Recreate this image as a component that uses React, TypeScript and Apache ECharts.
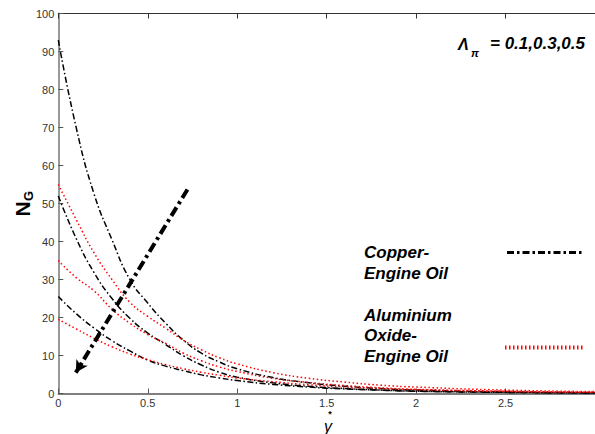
import React, { useEffect, useRef } from "react";
import * as echarts from "echarts";

const xValues = [0, 0.1, 0.2, 0.3, 0.4, 0.5, 0.6, 0.7, 0.8, 0.9, 1.0, 1.2, 1.4, 1.6, 1.8, 2.0, 2.5, 3.0];
const copperHigh = [93, 70, 52.5, 40.5, 30, 23.8, 18.5, 14, 10.6, 8.3, 6.5, 4.2, 2.8, 1.9, 1.3, 0.9, 0.4, 0.2];
const copperMid = [52, 40.8, 31.8, 25, 19.8, 15.9, 12.9, 9.9, 7.5, 5.6, 4.3, 2.8, 1.9, 1.3, 0.9, 0.6, 0.3, 0.15];
const copperLow = [25.5, 21, 17.2, 13.9, 11.2, 8.8, 7.2, 6, 4.9, 4.1, 3.4, 2.4, 1.7, 1.2, 0.9, 0.6, 0.3, 0.15];
const aluHigh = [55, 45.8, 37, 30, 24, 20.3, 17.2, 14, 11.5, 9.4, 7.8, 5.5, 4, 3, 2.2, 1.7, 0.9, 0.5];
const aluMid = [35, 30.5, 27, 22.2, 18.5, 15.5, 13.2, 10.6, 8.6, 7, 5.8, 4, 2.9, 2.1, 1.5, 1.1, 0.6, 0.3];
const aluLow = [19.5, 17, 14.5, 12.3, 10.4, 8.9, 7.6, 6.5, 5.6, 4.8, 4.1, 3.1, 2.3, 1.7, 1.3, 1, 0.5, 0.3];
const arrowStart = [0.722, 53.7];
const arrowEnd = [0.098, 5.5];
const legendNames = ["Copper-\nEngine Oil", "Aluminium\nOxide-\nEngine Oil"];

const pair = (ys: number[]) => xValues.map((x, i) => [x, ys[i]]);

export default function App() {
  const ref = useRef<HTMLDivElement>(null);
  useEffect(() => {
    if (!ref.current) return;
    const chart = echarts.init(ref.current, null, { renderer: "svg" });
    const blackStyle = { color: "#000", width: 1.5, type: [6, 2.5, 1.5, 2.5] as any };
    const redStyle = { color: "#ff0000", width: 1.5, type: [1.5, 2.5] as any };
    const mk = (name: string, ys: number[], style: any) => ({
      type: "line",
      name,
      data: pair(ys),
      smooth: true,
      showSymbol: false,
      symbol: "none",
      lineStyle: style,
      z: 3,
    });
    const font = "Liberation Sans, Arial, sans-serif";
    chart.setOption({
      animation: false,
      backgroundColor: "#fff",
      grid: { left: 58.3, right: -7.5, top: 13.5, bottom: 40.5, containLabel: false },
      xAxis: [
        {
          type: "value",
          min: 0,
          max: 3,
          interval: 0.5,
          position: "bottom",
          axisLine: { show: true, lineStyle: { color: "#555", width: 1.5 } },
          axisTick: { show: true, inside: true, length: 5, lineStyle: { color: "#555" } },
          axisLabel: { color: "#333", fontSize: 11, fontFamily: font, margin: 4, showMaxLabel: false },
          splitLine: { show: false },
        },
        {
          type: "value",
          min: 0,
          max: 3,
          interval: 0.5,
          position: "top",
          axisLine: { show: true, onZero: false, lineStyle: { color: "#333", width: 1 } },
          axisTick: { show: true, inside: true, length: 5, lineStyle: { color: "#333" } },
          axisLabel: { show: false },
          splitLine: { show: false },
        },
      ],
      yAxis: {
        type: "value",
        min: 0,
        max: 100,
        interval: 10,
        axisLine: { show: true, lineStyle: { color: "#999", width: 2 } },
        axisTick: { show: true, inside: true, length: 5, lineStyle: { color: "#555" } },
        axisLabel: { color: "#333", fontSize: 11, fontFamily: font, margin: 4 },
        splitLine: { show: false },
      },
      series: [
        mk("cuHigh", copperHigh, blackStyle),
        mk("cuMid", copperMid, blackStyle),
        mk("cuLow", copperLow, blackStyle),
        mk("alHigh", aluHigh, redStyle),
        mk("alMid", aluMid, redStyle),
        mk("alLow", aluLow, redStyle),
        {
          type: "line",
          name: "arrow",
          data: [],
          markLine: {
            silent: true,
            symbol: ["none", "arrow"],
            symbolSize: [10, 12],
            label: { show: false },
            lineStyle: { color: "#000", width: 4, type: [10, 4, 3, 4] as any },
            data: [[{ coord: arrowStart }, { coord: arrowEnd }]],
          },
        },
      ],
      graphic: [
        { type: "text", x: 22, y: 209, rotation: Math.PI / 2, style: { text: "N", font: `bold 21px ${font}`, fill: "#000", align: "center", verticalAlign: "middle" } },
        { type: "text", x: 28, y: 196, rotation: Math.PI / 2, style: { text: "G", font: `bold 13px ${font}`, fill: "#000", align: "center", verticalAlign: "middle" } },
        {
          type: "text",
          x: 328,
          y: 410,
          style: {
            text: "{s|*}\n{g|γ}",
            align: "center",
            verticalAlign: "top",
            rich: {
              s: { font: `bold 9px ${font}`, fill: "#000", lineHeight: 8, align: "center", padding: [0, 0, 0, 4] },
              g: { font: `italic 16px ${font}`, fill: "#000", lineHeight: 16, align: "center" },
            },
          },
        },
        { type: "text", x: 458, y: 44, style: { text: "Λ", font: `bold italic 16px ${font}`, fill: "#000", align: "left", verticalAlign: "middle" } },
        { type: "text", x: 471, y: 53, style: { text: "π", font: `bold italic 11px ${font}`, fill: "#000", align: "left", verticalAlign: "middle" } },
        { type: "text", x: 585, y: 43, style: { text: "= 0.1,0.3,0.5", font: `bold italic 17px ${font}`, fill: "#000", align: "right", verticalAlign: "middle" } },
        { type: "text", x: 364, y: 242, style: { text: legendNames[0], font: `bold italic 17px ${font}`, lineHeight: 21, fill: "#000", align: "left", verticalAlign: "top" } },
        { type: "text", x: 364, y: 305, style: { text: legendNames[1], font: `bold italic 17px ${font}`, lineHeight: 20.5, fill: "#000", align: "left", verticalAlign: "top" } },
        { type: "line", shape: { x1: 507, y1: 252.5, x2: 583, y2: 252.5 }, style: { stroke: "#000", lineWidth: 3, lineDash: [7, 3, 2.5, 3] } },
        { type: "line", shape: { x1: 505, y1: 347.5, x2: 583, y2: 347.5 }, style: { stroke: "#ff0000", lineWidth: 4, lineDash: [1.5, 2.5] } },
      ],
    });
    return () => chart.dispose();
  }, []);
  return <div ref={ref} style={{ position: "fixed", left: 0, top: 0, width: 595, height: 434, background: "#fff" }} />;
}
